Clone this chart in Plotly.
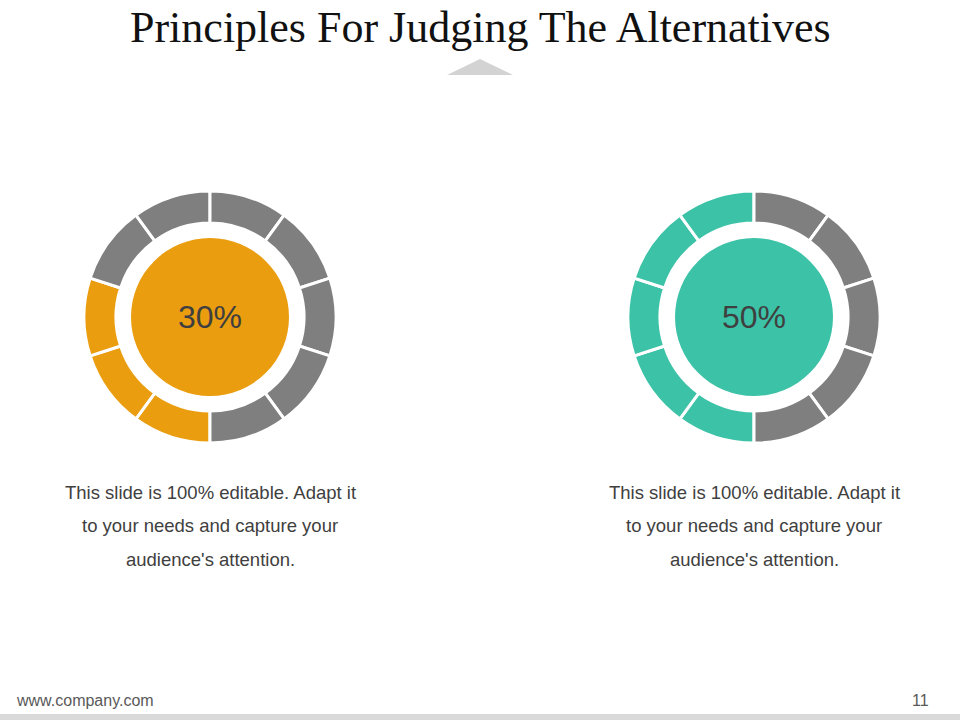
import plotly.graph_objects as go

# ---- data ----
percentages = [30, 50]
labels = ["30%", "50%"]
segment_count = 10
fill_colors = ["#EA9D0F", "#3CC2A7"]
empty_color = "#7F7F7F"
centers_x = [210, 754]
description = ["This slide is 100% editable. Adapt it",
               "to your needs and capture your",
               "audience's attention."]
title = "Principles For Judging The Alternatives"
footer_left = "www.company.com"
footer_right = "11"

W, H = 960, 720
cy = 317
r_out = 126
r_in = 94
r_center = 79

def px(x):
    return x / W

def py(y):
    return 1 - y / H

fig = go.Figure()
shapes = []
annotations = []

for k, pct in enumerate(percentages):
    cx = centers_x[k]
    n_filled = round(pct / 100 * segment_count)
    colors = [fill_colors[k] if i < n_filled else empty_color for i in range(segment_count)]
    fig.add_trace(go.Pie(
        values=[1] * segment_count,
        labels=[f"s{k}_{i}" for i in range(segment_count)],
        sort=False,
        direction="clockwise",
        rotation=180,
        hole=r_in / r_out,
        marker=dict(colors=colors, line=dict(color="white", width=3)),
        textinfo="none",
        hoverinfo="skip",
        showlegend=False,
        domain=dict(x=[px(cx - r_out), px(cx + r_out)],
                    y=[py(cy + r_out), py(cy - r_out)]),
    ))
    shapes.append(dict(type="circle", xref="paper", yref="paper",
                       x0=px(cx - r_center), x1=px(cx + r_center),
                       y0=py(cy + r_center), y1=py(cy - r_center),
                       fillcolor=fill_colors[k], line=dict(width=0)))
    annotations.append(dict(text=labels[k], x=px(cx), y=py(cy), xref="paper", yref="paper",
                            showarrow=False, xanchor="center", yanchor="middle",
                            font=dict(family="Liberation Sans, Arial", size=32, color="#3F3F3F")))
    for j, line in enumerate(description):
        annotations.append(dict(text=line, x=px(cx), y=py(492 + 33.5 * j), xref="paper", yref="paper",
                                showarrow=False, xanchor="center", yanchor="middle",
                                font=dict(family="Liberation Sans, Arial", size=18.5, color="#404040")))

# title
annotations.append(dict(text=title, x=0.5, y=py(28), xref="paper", yref="paper",
                        showarrow=False, xanchor="center", yanchor="middle",
                        font=dict(family="Liberation Serif, Times New Roman", size=44, color="#111111")))
# footer
annotations.append(dict(text=footer_left, x=px(14), y=py(700), xref="paper", yref="paper",
                        showarrow=False, xanchor="left", yanchor="middle",
                        font=dict(family="Liberation Sans, Arial", size=16, color="#595959")))
annotations.append(dict(text=footer_right, x=px(931), y=py(700), xref="paper", yref="paper",
                        showarrow=False, xanchor="right", yanchor="middle",
                        font=dict(family="Liberation Sans, Arial", size=16, color="#595959")))

# decorative triangle under title
shapes.append(dict(type="path", xref="paper", yref="paper",
                   path=f"M {px(447)} {py(75)} L {px(480)} {py(59)} L {px(513)} {py(75)} Z",
                   fillcolor="#D3D3D3", line=dict(width=0)))
# bottom bar
shapes.append(dict(type="rect", xref="paper", yref="paper",
                   x0=0, x1=1, y0=0, y1=py(714),
                   fillcolor="#D9D9D9", line=dict(width=0)))

fig.update_layout(
    width=W, height=H,
    margin=dict(l=0, r=0, t=0, b=0),
    paper_bgcolor="white", plot_bgcolor="white",
    shapes=shapes, annotations=annotations,
    showlegend=False,
)

fig.write_html("out.html",
               config={"displayModeBar": False, "staticPlot": True},
               post_script="document.body.style.margin='0px';document.body.style.overflow='hidden';")
